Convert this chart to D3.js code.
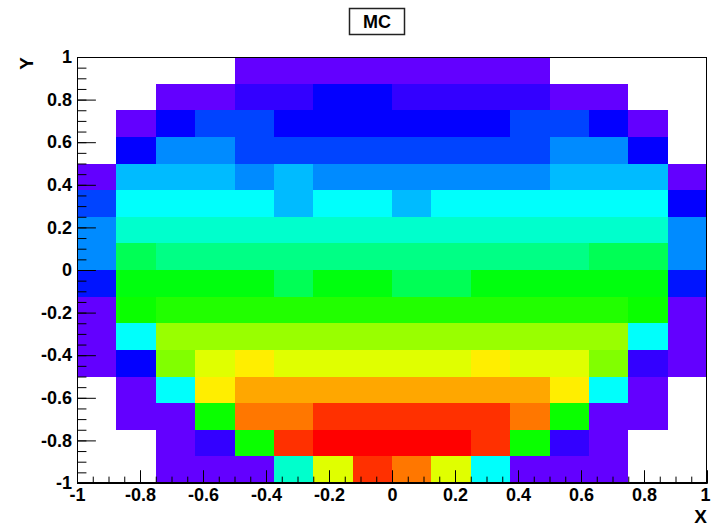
<!DOCTYPE html>
<html>
<head>
<meta charset="utf-8">
<script src="https://cdn.jsdelivr.net/npm/d3@7"></script>
<style>
html,body{margin:0;padding:0;background:#fff;}
svg{display:block;}
text{font-family:"Liberation Sans",Arial,Helvetica,sans-serif;font-weight:bold;fill:#000;}
</style>
</head>
<body>
<svg id="chart" width="711" height="526"></svg>
<script>
// ---- data ----
const title = "MC";
const xTitle = "X";
const yTitle = "Y";
const xEdges = [-1,-0.875,-0.75,-0.625,-0.5,-0.375,-0.25,-0.125,0,0.125,0.25,0.375,0.5,0.625,0.75,0.875,1];
const yEdges = [1,0.875,0.75,0.625,0.5,0.375,0.25,0.125,0,-0.125,-0.25,-0.375,-0.5,-0.625,-0.75,-0.875,-1];
// bin contents, rows from top (y=1) to bottom (y=-1), columns from x=-1 to x=1; 0 = empty
const row00 = [0,0,0,0,2,2,2,2,2,2,2,2,0,0,0,0];
const row01 = [0,0,2,2,4,4,6,6,4,4,4,4,2,2,0,0];
const row02 = [0,2,6,9,9,6,6,6,6,6,6,9,9,6,2,0];
const row03 = [0,6,12,12,9,9,9,9,9,9,9,9,12,12,6,0];
const row04 = [2,14,14,14,12,14,12,12,12,12,12,12,14,14,14,2];
const row05 = [9,17,17,17,17,14,17,17,14,17,17,17,17,17,17,6];
const row06 = [12,19,19,19,19,19,19,19,19,19,19,19,19,19,19,12];
const row07 = [12,24,22,22,22,22,22,22,22,22,22,22,22,24,24,12];
const row08 = [7,27,27,27,27,24,27,27,24,24,27,27,27,27,27,7];
const row09 = [2,28,29,29,29,29,29,29,29,29,29,29,29,29,28,2];
const row10 = [2,17,34,34,34,34,34,34,34,34,34,34,34,34,17,2];
const row11 = [2,6,33,37,39,37,37,37,37,37,39,37,37,33,4,2];
const row12 = [0,2,17,39,42,42,42,42,42,42,42,42,39,17,2,0];
const row13 = [0,2,2,28,44,44,47,47,47,47,47,44,28,2,2,0];
const row14 = [0,0,2,4,28,47,49,49,49,49,47,28,4,2,0,0];
const row15 = [0,0,2,2,2,19,37,47,44,37,17,2,2,2,0,0];
const zRows = [row00,row01,row02,row03,row04,row05,row06,row07,row08,row09,row10,row11,row12,row13,row14,row15];
const zMax = 50;
const xMajorTicks = [-1,-0.8,-0.6,-0.4,-0.2,0,0.2,0.4,0.6,0.8,1];
const yMajorTicks = [-1,-0.8,-0.6,-0.4,-0.2,0,0.2,0.4,0.6,0.8,1];
const xTickLabels = ["-1","-0.8","-0.6","-0.4","-0.2","0","0.2","0.4","0.6","0.8","1"];
const yTickLabels = ["-1","-0.8","-0.6","-0.4","-0.2","0","0.2","0.4","0.6","0.8","1"];

// ---- layout ----
const L = 77, R = 707, T = 57, B = 483;
const svg = d3.select("#chart");
const x = d3.scaleLinear().domain([-1,1]).range([L,R]);
const y = d3.scaleLinear().domain([-1,1]).range([B,T]);

// ROOT "pretty" palette: 50 colours violet -> red
const nCol = 50;
const palette = d3.range(nCol).map(i => d3.hsl(280 - (i+1)*(280/nCol), 1, 0.5).formatHex());
const color = d3.scaleQuantize().domain([0, zMax]).range(palette);

const cells = [];
zRows.forEach((row, j) => row.forEach((z, i) => {
  if (z > 0) cells.push({x0: xEdges[i], x1: xEdges[i+1], y0: yEdges[j], y1: yEdges[j+1], z});
}));

svg.append("g").selectAll("rect").data(cells).join("rect")
  .attr("x", d => Math.round(x(d.x0)))
  .attr("width", d => Math.round(x(d.x1)) - Math.round(x(d.x0)))
  .attr("y", d => Math.round(y(d.y0)))
  .attr("height", d => Math.round(y(d.y1)) - Math.round(y(d.y0)))
  .attr("fill", d => color(d.z + 0.5))
  .attr("shape-rendering", "crispEdges");

// frame
svg.append("rect").attr("x", L + 0.5).attr("y", T + 0.5)
  .attr("width", R - L - 1).attr("height", B - T - 1)
  .attr("fill", "none").attr("stroke", "#000").attr("stroke-width", 1)
  .attr("shape-rendering", "crispEdges");

const minorVals = d3.range(0, 41).map(k => -1 + k*0.05);
const xTickLen = 0.03 * (B - T), yTickLen = 0.03 * (R - L);

// x axis
svg.append("g").attr("transform", `translate(0,${B})`)
  .call(d3.axisBottom(x).tickValues(minorVals).tickSizeInner(-xTickLen/2).tickSizeOuter(0).tickFormat(""));
const gx = svg.append("g").attr("transform", `translate(0,${B})`)
  .call(d3.axisBottom(x).tickValues(xMajorTicks).tickSizeInner(-xTickLen).tickSizeOuter(0).tickPadding(5)
        .tickFormat((d,i) => xTickLabels[i]));
// y axis
svg.append("g").attr("transform", `translate(${L},0)`)
  .call(d3.axisLeft(y).tickValues(minorVals).tickSizeInner(-yTickLen/2).tickSizeOuter(0).tickFormat(""));
const gy = svg.append("g").attr("transform", `translate(${L},0)`)
  .call(d3.axisLeft(y).tickValues(yMajorTicks).tickSizeInner(-yTickLen).tickSizeOuter(0).tickPadding(5)
        .tickFormat((d,i) => yTickLabels[i]));

svg.selectAll(".domain").attr("stroke", "#000");
svg.selectAll(".tick line").attr("stroke", "#000").attr("stroke-width", 1);
[gx, gy].forEach(g => g.selectAll("text")
  .attr("font-family", '"Liberation Sans", Arial, sans-serif')
  .attr("font-weight", "bold").attr("font-size", 18).attr("fill", "#000"));
// keep the rightmost x label inside the canvas
gx.selectAll(".tick text").filter(d => d === 1).attr("dx", -2);

// axis titles
svg.append("text").attr("x", R).attr("y", 523).attr("text-anchor", "end")
  .attr("font-size", 19).text(xTitle);
svg.append("text").attr("transform", `translate(33,${T}) rotate(-90)`).attr("text-anchor", "end")
  .attr("font-size", 19).text(yTitle);

// title box
svg.append("rect").attr("x", 349.5).attr("y", 8.5).attr("width", 55).attr("height", 26)
  .attr("fill", "#fff").attr("stroke", "#222").attr("stroke-width", 1.5);
svg.append("text").attr("x", 377).attr("y", 28).attr("text-anchor", "middle")
  .attr("font-size", 18).text(title);
</script>
</body>
</html>
